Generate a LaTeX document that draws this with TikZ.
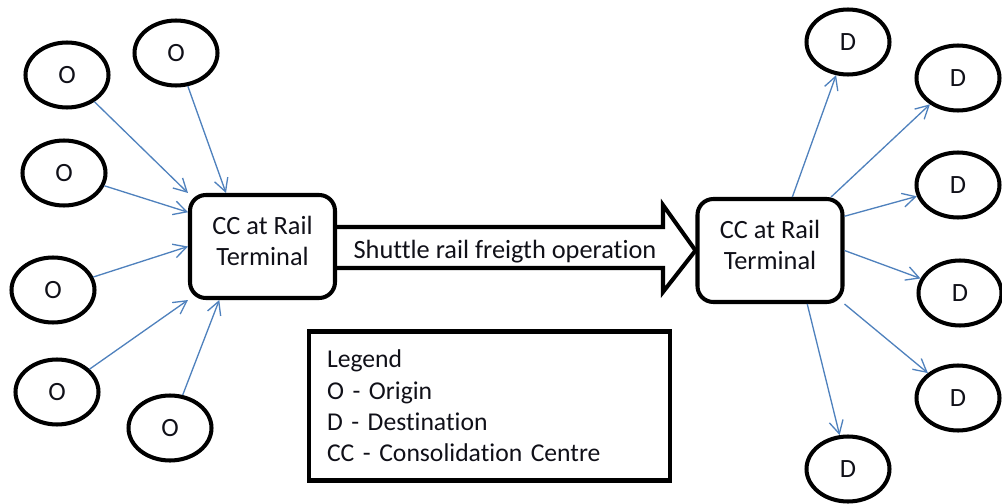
\documentclass[tikz,border=0pt]{standalone}
\usepackage{fontspec}
\setmainfont[Ligatures=NoCommon]{Carlito}
\usetikzlibrary{arrows.meta, shapes.geometric, calc}
\definecolor{flowblue}{HTML}{4F81BD}
\definecolor{inkdark}{HTML}{101018}

\tikzset{
  endpt/.style={ellipse, draw=black, line width=2.3pt, minimum width=1.66cm, minimum height=1.3cm, inner sep=0pt, text=inkdark, font=\fontsize{15}{18}\selectfont},
  ccbox/.style={rectangle, draw=black, line width=2.3pt, rounded corners=9pt, minimum width=2.9cm, minimum height=2.06cm, text depth=0.22cm, align=center, text=inkdark, font=\fontsize{15}{18}\selectfont},
  flow/.style={flowblue, line width=0.75pt, ->},
}

\begin{document}
\begin{tikzpicture}[x=0.02cm, y=-0.02cm, >={Straight Barb[length=2.6mm, width=2.8mm]}]

% Canvas
\useasboundingbox (0,0) rectangle (1002,504);

% Consolidation centres
\node[ccbox] (ccl) at (262.5,246.5) {CC at Rail\\Terminal};
\node[ccbox] (ccr) at (770,250.5) {CC at Rail\\Terminal};

% Origins
\node[endpt] (o1) at (67,75) {O};
\node[endpt] (o2) at (176,53) {O};
\node[endpt] (o3) at (64,173) {O};
\node[endpt] (o4) at (53,290) {O};
\node[endpt] (o5) at (57,392) {O};
\node[endpt] (o6) at (170,428) {O};

% Destinations
\node[endpt] (d1) at (848,42) {D};
\node[endpt] (d2) at (958,78) {D};
\node[endpt] (d3) at (958,185) {D};
\node[endpt] (d4) at (960,293) {D};
\node[endpt] (d5) at (958,398) {D};
\node[endpt] (d6) at (848,469) {D};

% Feeder flows into the left CC
\draw[flow] (o1) -- (ccl.north west);
\draw[flow] (o2) -- ($(ccl.north west)!0.255!(ccl.north east)$);
\draw[flow] (o3) -- ($(ccl.north west)!0.18!(ccl.south west)$);
\draw[flow] (o4) -- (ccl.west);
\draw[flow] (o5) -- (ccl.south west);
\draw[flow] (o6) -- ($(ccl.south west)!0.21!(ccl.south east)$);

% Distribution flows out of the right CC
\draw[flow] ($(ccr.north west)!0.65!(ccr.north east)$) -- (d1);
\draw[flow] ($(ccr.north west)!0.91!(ccr.north east)$) -- (d2);
\draw[flow] ($(ccr.north east)!0.18!(ccr.south east)$) -- (d3);
\draw[flow] (ccr.east) -- (d4);
\draw[flow] (ccr.south east) -- (d5);
\draw[flow] ($(ccr.south west)!0.75!(ccr.south east)$) -- (d6);

% Shuttle arrow between the terminals
\draw[black, line width=2.3pt, line join=miter]
  (ccl.east |- 0,227) -- (663,227) -- (663,205) -- (ccr.west)
  -- (663,292) -- (663,268) -- (ccl.east |- 0,268);
\node[text=inkdark, font=\fontsize{15}{18}\selectfont] (shuttle) at (505,252) {Shuttle rail freigth operation};

% Legend
\node[draw=black, line width=2.3pt, minimum width=7.22cm, minimum height=2.98cm,
      text width=6.5cm, align=left, text=inkdark, font=\fontsize{14.6}{17.8}\selectfont]
  (legend) at (489.5,406) {Legend\\O - Origin\\D - Destination\\CC - Consolidation Centre};

\end{tikzpicture}
\end{document}
